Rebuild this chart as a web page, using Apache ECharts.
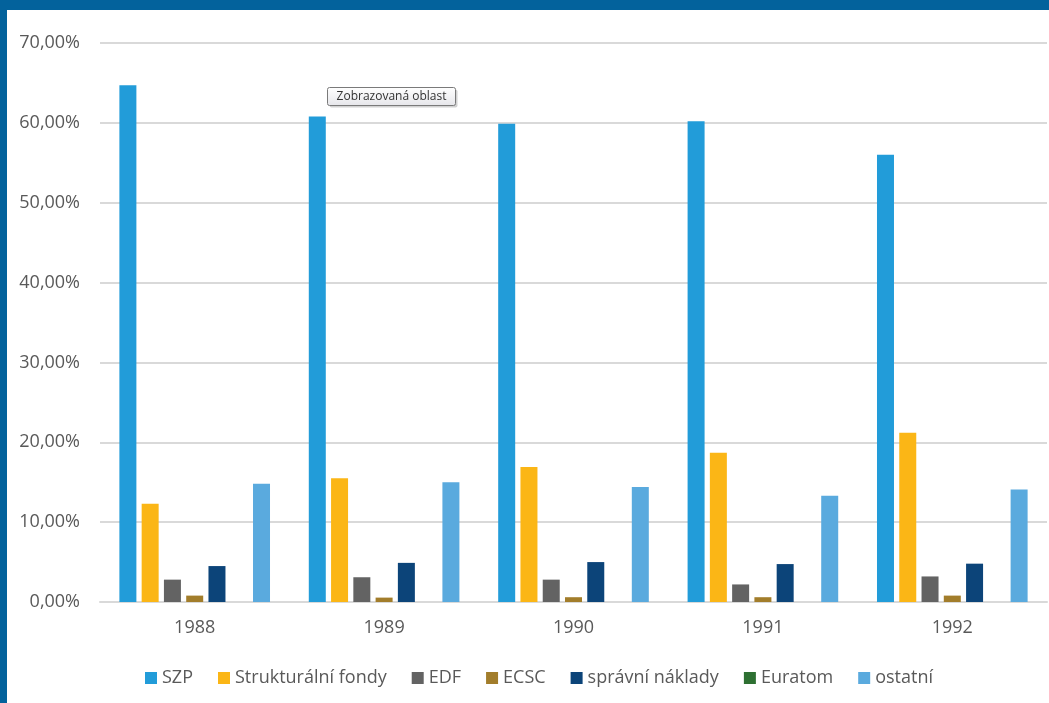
<!DOCTYPE html>
<html>
<head>
<meta charset="utf-8">
<title>Struktura výdajů rozpočtu ES 1988–1992</title>
<script src="https://cdn.jsdelivr.net/npm/echarts@6/dist/echarts.min.js"></script>
<style>
  html, body { margin: 0; padding: 0; background: #ffffff; }
  #chart { width: 1049px; height: 703px; }
</style>
</head>
<body>
<div id="chart"></div>
<script>
// Roky
const years = ['1988', '1989', '1990', '1991', '1992'];

// Podíl jednotlivých položek na výdajích (v %)
const szp = [64.7, 60.8, 59.9, 60.2, 56.0];
const strukturalniFondy = [12.3, 15.5, 16.9, 18.7, 21.2];
const edf = [2.8, 3.1, 2.8, 2.2, 3.2];
const ecsc = [0.8, 0.55, 0.6, 0.6, 0.8];
const spravniNaklady = [4.5, 4.9, 5.0, 4.75, 4.8];
const euratom = [0, 0, 0, 0, 0];
const ostatni = [14.8, 15.0, 14.4, 13.3, 14.1];

const seriesNames = ['SZP', 'Strukturální fondy', 'EDF', 'ECSC', 'správní náklady', 'Euratom', 'ostatní'];
const seriesData = [szp, strukturalniFondy, edf, ecsc, spravniNaklady, euratom, ostatni];
const seriesColors = ['#229cd9', '#fbb616', '#636363', '#a27d2b', '#0c4479', '#2e7032', '#5aaade'];

const FONT = '"Open Sans", "Noto Sans", sans-serif';
const chart = echarts.init(document.getElementById('chart'), null, { renderer: 'canvas' });

chart.setOption({
  backgroundColor: '#ffffff',
  animation: false,
  grid: { left: 100, right: 2, top: 43, bottom: 101, containLabel: false },
  legend: {
    data: seriesNames,
    left: 140,
    top: 664,
    itemWidth: 12,
    itemHeight: 12,
    itemGap: 25,
    icon: 'rect',
    textStyle: { color: '#595959', fontSize: 18, fontFamily: FONT }
  },
  xAxis: {
    type: 'category',
    data: years,
    axisLine: { show: true, lineStyle: { color: '#d9d9d9', width: 2 } },
    axisTick: { show: false },
    axisLabel: { color: '#595959', fontSize: 18, fontFamily: FONT, margin: 17 }
  },
  yAxis: {
    type: 'value',
    min: 0,
    max: 70,
    interval: 10,
    axisLine: { show: false },
    axisTick: { show: false },
    splitLine: { lineStyle: { color: '#d9d9d9', width: 2 } },
    axisLabel: {
      color: '#595959', fontSize: 18, fontFamily: FONT, margin: 20,
      formatter: v => v.toFixed(2).replace('.', ',') + '%'
    }
  },
  series: seriesNames.map((name, i) => ({
    name: name,
    type: 'bar',
    data: seriesData[i],
    barWidth: 17,
    barGap: '31%',
    itemStyle: { color: seriesColors[i] }
  })),
  graphic: [
    // rámeček okna
    { type: 'rect', shape: { x: 0, y: 0, width: 1049, height: 10 }, style: { fill: '#03629c' }, z: 100 },
    { type: 'rect', shape: { x: 0, y: 0, width: 7, height: 703 }, style: { fill: '#03629c' }, z: 100 },
    // popisek oblasti grafu
    {
      type: 'group', left: 327, top: 87, z: 110,
      children: [
        { type: 'rect', shape: { x: 2, y: 2, width: 128, height: 18, r: 2 }, style: { fill: 'rgba(0,0,0,0.18)' } },
        {
          type: 'rect', shape: { x: 0, y: 0, width: 128, height: 18, r: 2 },
          style: {
            fill: new echarts.graphic.LinearGradient(0, 0, 0, 1, [
              { offset: 0, color: '#ffffff' }, { offset: 1, color: '#e6e6ea' }
            ]),
            stroke: '#7a7a7a', lineWidth: 1
          }
        },
        {
          type: 'text', x: 64, y: 9,
          style: { text: 'Zobrazovaná oblast', fill: '#333333', fontSize: 12, fontFamily: FONT, align: 'center', verticalAlign: 'middle' }
        }
      ]
    }
  ]
});
</script>
</body>
</html>
